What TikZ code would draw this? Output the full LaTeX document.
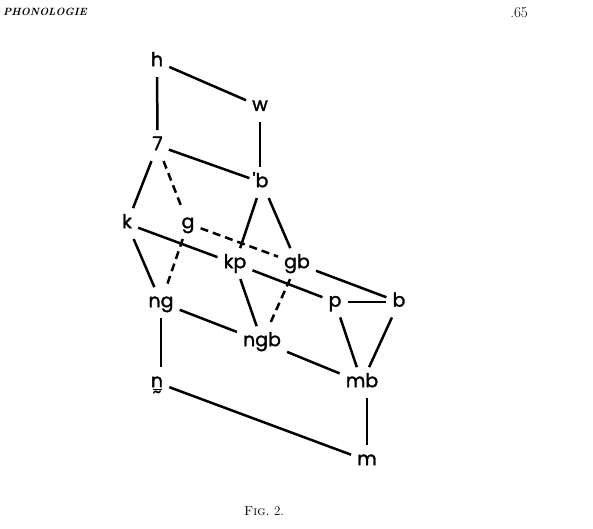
\documentclass[tikz,border=0pt]{standalone}
\usepackage{fontspec}
\newfontfamily\lab[FakeBold=1.6]{Poppins}
\newcommand\ntil{\vtop{\offinterlineskip\halign{\hfil##\hfil\cr n\cr\noalign{\kern1.5pt}\rule{9pt}{1.5pt}\cr\noalign{\kern0.5pt}{\fontsize{17}{17}\selectfont\textasciitilde}\cr}}}
\begin{document}
\begin{tikzpicture}[x=1pt,y=-1pt,
  ph/.style={font=\lab\fontsize{19}{19}\selectfont, inner sep=6pt, text height=13.8pt, text depth=4.7pt},
  ln/.style={line width=2.5pt},
  dsh/.style={line width=2.5pt, dash pattern=on 8pt off 5pt}]
\useasboundingbox (0,0) rectangle (593,528);
% header and caption
\node[anchor=base west, inner sep=0pt, font=\fontsize{10.5}{10.5}\selectfont\bfseries\itshape] (hd) at (3,15) {PHONOLOGIE};
\node[anchor=base east, inner sep=0pt, font=\fontsize{15}{15}\selectfont] (pg) at (528,17) {.65};
\node[anchor=base, inner sep=0pt, font=\fontsize{13}{13}\selectfont] (cap) at (264,515) {\textsc{Fig.}~2.};
% nodes
\node[ph] (h) at (157,61.6) {h};
\node[ph] (w) at (260,106.3) {w};
\node[ph] (q) at (157.5,145.6) {7};
\node[ph] (bq) at (262,182.6) {\llap{'}b};
\node[ph] (k) at (127,223.6) {k};
\node[ph] (g) at (188,223.6) {g};
\node[ph] (kp) at (235,263.6) {kp};
\node[ph] (gb) at (297,263.6) {gb};
\node[ph] (ng) at (161,302.6) {ng};
\node[ph] (p) at (335,302) {p};
\node[ph] (b) at (399,302) {b};
\node[ph] (ngb) at (262,341.6) {ngb};
\node[ph] (mb) at (362,382.6) {mb};
\node[ph] (nt) at (157,382.6) {\ntil};
\node[ph] (m) at (367,460.6) {m};
% solid connectors
\draw[ln] (h) -- (q);
\draw[ln] (h) -- (w);
\draw[ln] (w) -- (w |- bq.north);
\draw[ln] (q) -- (bq);
\draw[ln] (q) -- (k);
\draw[ln] (bq) -- (kp);
\draw[ln] (bq) -- (gb);
\draw[ln] (k) -- (kp);
\draw[ln] (k) -- (ng);
\draw[ln] (kp) -- (p);
\draw[ln] (kp) -- (ngb);
\draw[ln] (gb) -- (b);
\draw[ln] (p) -- (b);
\draw[ln] (p) -- (mb);
\draw[ln] (b) -- (mb);
\draw[ln] (ng) -- (ngb);
\draw[ln] (ng) -- (ng |- nt.north);
\draw[ln] (ngb) -- (mb);
\draw[ln] (m |- mb.south) -- (m);
\draw[ln] (nt) -- (m);
% dashed connectors
\draw[dsh] (q) -- (g);
\draw[dsh] (g) -- (gb);
\draw[dsh] (g) -- (ng);
\draw[dsh] (gb) -- (ngb);
\end{tikzpicture}
\end{document}
